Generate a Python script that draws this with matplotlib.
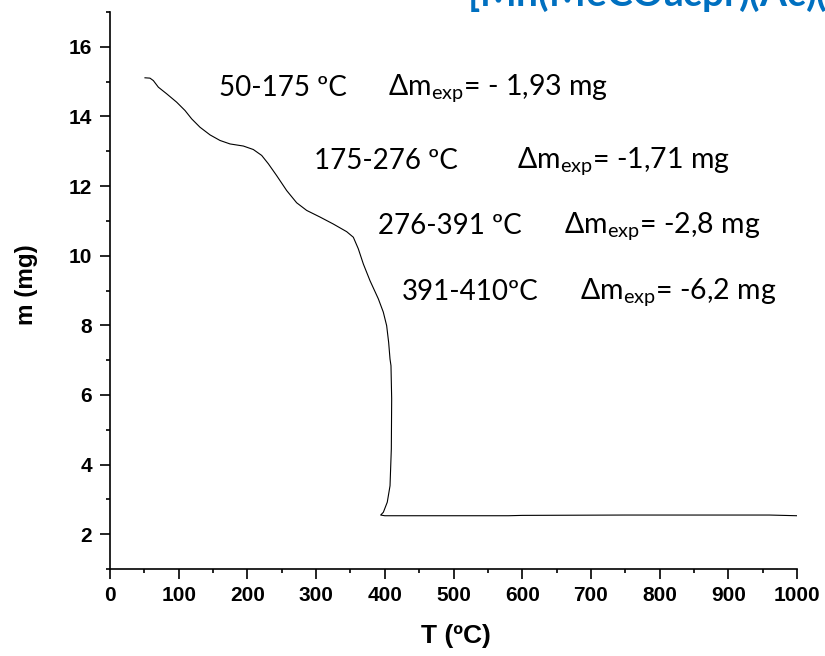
import matplotlib
matplotlib.use("Agg")
import matplotlib.pyplot as plt
from matplotlib.ticker import MultipleLocator

# ---- data ----
T = [50.9, 58.2, 63.1, 70.4, 82.5, 97.0, 109.2, 118.9, 131.0, 145.6, 160.1,
     174.7, 194.1, 208.6, 220.8, 230.5, 242.6, 257.2, 271.7, 286.3, 305.7,
     325.0, 344.5, 354.2, 361.4, 368.8, 378.5, 390.6, 397.8, 402.7, 405.6,
     407.6, 409.0, 410.0, 409.5, 407.6, 403.6, 397.9, 394.0,
     400, 580, 600, 750, 960, 1000]
m = [15.11, 15.10, 15.03, 14.84, 14.65, 14.41, 14.17, 13.93, 13.69, 13.47,
     13.31, 13.21, 13.15, 13.05, 12.88, 12.64, 12.30, 11.87, 11.52, 11.30,
     11.11, 10.91, 10.69, 10.53, 10.20, 9.76, 9.28, 8.76, 8.38, 7.99, 7.51,
     7.03, 6.84, 5.89, 4.45, 3.39, 2.92, 2.63, 2.55,
     2.53, 2.53, 2.54, 2.55, 2.55, 2.53]

ranges = ["50-175 ºC", "175-276 ºC", "276-391 ºC", "391-410ºC"]
losses = ["- 1,93", "-1,71", "-2,8", "-6,2"]

title = "[Mn(MeCOacpr)(Ac)(H$_2$O)]"
xlabel = "T (ºC)"
ylabel = "m (mg)"

# ---- layout (positions in data coordinates) ----
range_pos = [(158.7, 14.82), (297, 12.72), (390, 10.86), (425, 8.96)]
loss_pos = [(404.7, 14.82), (592.4, 12.72), (660.8, 10.86), (684, 8.96)]

plt.rcParams['mathtext.fontset'] = 'custom'
plt.rcParams['mathtext.rm'] = 'Lato'
plt.rcParams['mathtext.it'] = 'Lato:italic'
plt.rcParams['mathtext.bf'] = 'Lato:bold'

W, H = 825, 656
fig = plt.figure(figsize=(W / 100, H / 100), dpi=100)
ax = fig.add_axes([110 / W, (H - 569) / H, (797 - 110) / W, (569 - 12) / H])

ax.plot(T, m, color='black', lw=0.8)

ax.set_xlim(0, 1000)
ax.set_ylim(1, 17)
ax.xaxis.set_major_locator(MultipleLocator(100))
ax.xaxis.set_minor_locator(MultipleLocator(50))
ax.yaxis.set_minor_locator(MultipleLocator(1))
ax.set_yticks([2, 4, 6, 8, 10, 12, 14, 16])

for s in ['top', 'right']:
    ax.spines[s].set_visible(False)
for s in ['left', 'bottom']:
    ax.spines[s].set_linewidth(1.2)

ax.tick_params(which='major', direction='out', length=7, width=1.2)
ax.tick_params(axis='y', which='major', pad=6)
ax.tick_params(axis='x', which='major', pad=5)
ax.tick_params(which='minor', direction='out', length=3, width=1.2)
for lab in ax.get_xticklabels() + ax.get_yticklabels():
    lab.set_fontfamily('Liberation Sans')
    lab.set_fontweight('bold')
    lab.set_fontsize(15)

fig.text(456 / W, 1 - 636 / H, xlabel, ha='center', va='center',
         fontfamily='Liberation Sans', fontweight='bold', fontsize=19)
fig.text(27 / W, 1 - 285 / H, ylabel, ha='center', va='center', rotation=90,
         fontfamily='Liberation Sans', fontweight='bold', fontsize=17.5)

for (x, y), r in zip(range_pos, ranges):
    ax.text(x, y, r, ha='left', va='center', fontfamily='Lato', fontsize=20)
for (x, y), l in zip(loss_pos, losses):
    ax.text(x, y, r"$\Delta$m$_{\rm exp}$= " + l + " mg", ha='left', va='center',
            fontfamily='Lato', fontsize=20.5)

fig.text(467 / W, 1 - 6 / H, title, ha='left', va='baseline',
         fontfamily='Lato', fontweight='bold', fontsize=28, color='#0070C0')

fig.savefig("out.png", dpi=100)
